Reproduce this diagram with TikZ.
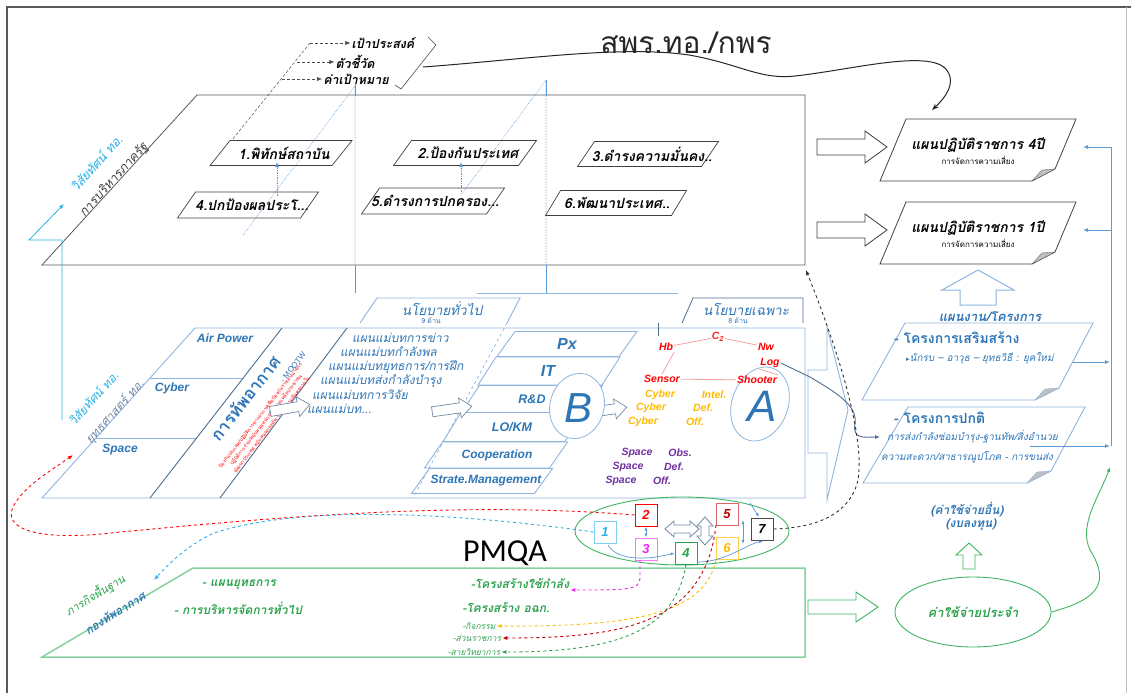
\documentclass[tikz,border=0pt]{standalone}
\usepackage{fontspec}
\setmainfont{Liberation Sans}
\newfontfamily\thai[Script=Thai]{Loma}
\newfontfamily\pmqaf{Carlito}
\newfontfamily\djv{DejaVu Sans}
\usetikzlibrary{arrows.meta,shapes.geometric}
\definecolor{frame}{HTML}{595959}
\definecolor{bluet}{HTML}{2E75B6}
\definecolor{lblue}{HTML}{8FB4DE}
\definecolor{mblue}{HTML}{5B9BD5}
\definecolor{slate}{HTML}{4F6D8F}
\definecolor{cyanc}{HTML}{29B0E8}
\definecolor{greenl}{HTML}{86D19F}
\definecolor{greenc}{HTML}{3DB562}
\definecolor{greent}{HTML}{2BA24C}
\definecolor{orangec}{HTML}{FFBA00}
\definecolor{purplec}{HTML}{7030A0}
\definecolor{darkred}{HTML}{C00000}
\definecolor{magentac}{HTML}{F020F0}
\definecolor{pinkl}{HTML}{F4A0A0}
% parallelogram: centre x, centre y, total width, height, slant
\newcommand{\para}[6][]{\draw[#1] (#2-#4/2,#3+#5/2) -- (#2-#4/2+#6,#3-#5/2) -- (#2+#4/2,#3-#5/2) -- (#2+#4/2-#6,#3+#5/2) -- cycle;}
% right block arrow: x1, x2, yc, shaft half, head half, head length
\newcommand{\rarr}[7][]{\draw[#1] (#2,#4-#5) -- (#3-#7,#4-#5) -- (#3-#7,#4-#6) -- (#3,#4) -- (#3-#7,#4+#6) -- (#3-#7,#4+#5) -- (#2,#4+#5) -- cycle;}
% up block arrow: xc, ytip, ybottom, shaft half, head half, head length
\newcommand{\uarr}[7][]{\draw[#1] (#2-#5,#4) -- (#2-#5,#3+#7) -- (#2-#6,#3+#7) -- (#2,#3) -- (#2+#6,#3+#7) -- (#2+#5,#3+#7) -- (#2+#5,#4) -- cycle;}
% horizontal double block arrow: x1, x2, yc, shaft half, head half, head length
\newcommand{\dharr}[7][]{\draw[#1] (#2,#4) -- (#2+#7,#4-#6) -- (#2+#7,#4-#5) -- (#3-#7,#4-#5) -- (#3-#7,#4-#6) -- (#3,#4) -- (#3-#7,#4+#6) -- (#3-#7,#4+#5) -- (#2+#7,#4+#5) -- (#2+#7,#4+#6) -- cycle;}
% vertical double block arrow: xc, y1, y2, shaft half, head half, head length
\newcommand{\dvarr}[7][]{\draw[#1] (#2,#3) -- (#2+#6,#3+#7) -- (#2+#5,#3+#7) -- (#2+#5,#4-#7) -- (#2+#6,#4-#7) -- (#2,#4) -- (#2-#6,#4-#7) -- (#2-#5,#4-#7) -- (#2-#5,#3+#7) -- (#2-#6,#3+#7) -- cycle;}

\begin{document}
\begin{tikzpicture}[x=1pt,y=-1pt,
  every node/.style={inner sep=1pt},
  tip/.style={-{Latex[length=5pt,width=4pt]}},
  topt/.style={font=\thai\bfseries\itshape\fontsize{12.5}{14}\selectfont},
  boxline/.style={draw=black!75,line width=0.7pt},
  boxtxt/.style={font=\thai\bfseries\itshape\fontsize{14}{16}\selectfont},
  lbl/.style={draw=lblue,line width=0.9pt},
  lat/.style={font=\bfseries\itshape\fontsize{12}{14}\selectfont,text=bluet},
  thi/.style={font=\thai\itshape\fontsize{12}{14}\selectfont,text=bluet},
  net/.style={font=\bfseries\itshape\fontsize{10.5}{12}\selectfont,text=red},
  cyb/.style={font=\bfseries\itshape\fontsize{10.5}{12}\selectfont,text=orangec},
  spc/.style={font=\bfseries\itshape\fontsize{10.5}{12}\selectfont,text=purplec},
  numbox/.style={draw,line width=1pt,minimum size=22pt,inner sep=0pt,fill=white,font=\bfseries\itshape\fontsize{13}{15}\selectfont},
  doct/.style={font=\thai\bfseries\itshape\fontsize{14}{16}\selectfont},
  docs/.style={font=\thai\fontsize{8}{9}\selectfont},
  grt/.style={font=\thai\bfseries\itshape\fontsize{12}{14}\selectfont,text=greent},
  smallg/.style={font=\thai\itshape\fontsize{8.5}{10}\selectfont,text=greent},
  bluesm/.style={font=\thai\itshape\fontsize{10}{12}\selectfont,text=bluet}]
\path[use as bounding box] (0,0) rectangle (1131,693);
% frame
\draw[frame,line width=2pt] (7,693) -- (7,7) -- (1131,7);
\draw[black!25,line width=0.8pt] (1126,7) -- (1126,693);

% ---------- top: goals ----------
\node[topt] (goal) at (383,43) {เป้าประสงค์};
\node[topt] (kpi) at (355,62) {ตัวชี้วัด};
\node[topt] (tgt) at (356,79) {ค่าเป้าหมาย};
\coordinate (d0) at (310,43);
\coordinate (d1) at (297,62);
\coordinate (d2) at (282,79);
\coordinate (d3) at (232,140);
\draw[black!70,densely dashed,line width=0.5pt] (d0) -- (d3);
\draw[black!70,densely dashed,line width=0.5pt,tip] (d0) -- (goal.west);
\draw[black!70,densely dashed,line width=0.5pt,tip] (d1) -- (kpi.west);
\draw[black!70,densely dashed,line width=0.5pt,tip] (d2) -- (tgt.west);
\draw[black!70,line width=0.6pt] (428,37) -- (436,45) -- (401,89) -- (395,85);
\coordinate (br) at (423,67);
\node[font=\thai\fontsize{30}{32}\selectfont,text=black!85] (spr) at (686,43) {สพร.ทอ./กพร};

% ---------- top plane ----------
\draw[frame,line width=0.8pt] (197,95) -- (805,95) -- (805,265) -- (42,265) -- cycle;
\draw[mblue,densely dotted,line width=0.6pt] (355,86) -- (355,265) (546,80) -- (546,265) (355,86) -- (243,235) (546,80) -- (461,195);
\draw[mblue,line width=0.6pt] (355,84) -- (355,96) (355,265) -- (355,293) (546,80) -- (546,96) (546,265) -- (546,293);

\para[boxline]{281}{153}{142}{25}{20}
\para[boxline]{465}{153}{143}{25}{18}
\para[boxline]{648}{154}{141}{25}{17}
\para[boxline]{248}{205}{141}{26}{18}
\para[boxline]{433}{201}{143}{26}{18}
\para[boxline]{616}{203}{141}{25}{15}
\node[boxtxt] (g1) at (284,153) {1.พิทักษ์สถาบัน};
\node[boxtxt] (g2) at (468,153) {2.ป้องกันประเทศ};
\node[boxtxt] (g3) at (652,154) {3.ดำรงความมั่นคง..};
\node[boxtxt] (g4) at (252,205) {4.ปกป้องผลประโ...};
\node[boxtxt] (g5) at (435,201) {5.ดำรงการปกครอง...};
\node[boxtxt] (g6) at (617,203) {6.พัฒนาประเทศ..};
\draw[mblue,densely dotted,line width=0.7pt,tip] (277,196) -- (277,162);
\draw[mblue,densely dotted,line width=0.7pt,tip] (461,192) -- (461,162);

\node[rotate=48,text=cyanc,font=\thai\itshape\fontsize{12.5}{14}\selectfont] (vis1) at (96,163) {วิสัยทัศน์ ทอ.};
\node[rotate=48,text=black!75,font=\thai\itshape\fontsize{12.5}{14}\selectfont] (adm) at (114,180) {การบริหารภาครัฐ};
\draw[cyanc,line width=0.8pt,tip] (62,420) -- (62,240) -- (29,240) -- (64,204);

% curve from bracket to 4-year plan
\draw[black!85,line width=1pt,-{Stealth[length=7pt,width=5pt]}] (br) .. controls (520,60) and (620,45) .. (689,55) .. controls (740,64) and (760,80) .. (795,76) .. controls (850,70) and (925,50) .. (945,68) .. controls (958,82) and (945,98) .. (932,110);

% ---------- right: plans ----------
\rarr[draw=black!75,line width=0.8pt,fill=white]{817}{887}{147}{8}{16}{22}
\rarr[draw=black!75,line width=0.8pt,fill=white]{817}{887}{230}{8}{16}{22}
\draw[black!75,line width=0.8pt] (880,181) -- (906,119) -- (1076,119) -- (1055,169) -- (1032,181) -- cycle;
\draw[black!60,fill=black!25] (1055,169) -- (1032,181) -- (1042,170) -- cycle;
\draw[black!75,line width=0.8pt] (880,264) -- (906,202) -- (1076,202) -- (1055,252) -- (1032,264) -- cycle;
\draw[black!60,fill=black!25] (1055,252) -- (1032,264) -- (1042,253) -- cycle;
\node[doct] (p4) at (978,145) {แผนปฏิบัติราชการ 4ปี};
\node[docs] (p4s) at (978,160) {การจัดการความเสี่ยง};
\node[doct] (p1) at (978,228) {แผนปฏิบัติราชการ 1ปี};
\node[docs] (p1s) at (978,243) {การจัดการความเสี่ยง};

\uarr[draw=lblue,line width=1pt,fill=white]{978}{270}{305}{18}{36}{20}
\node[font=\thai\bfseries\itshape\fontsize{13}{15}\selectfont,text=bluet] (prj) at (990,317) {แผนงาน/โครงการ};
\draw[lblue,line width=0.9pt] (862,400) -- (905,323) -- (1093,323) -- (1059,388) -- (1035,400) -- cycle;
\draw[lblue,fill=black!25] (1059,388) -- (1035,400) -- (1045,389) -- cycle;
\draw[lblue,line width=0.9pt] (863,483) -- (908,407) -- (1085,407) -- (1051,471) -- (1027,483) -- cycle;
\draw[lblue,fill=black!25] (1051,471) -- (1027,483) -- (1037,472) -- cycle;
\node[font=\thai\bfseries\fontsize{14}{16}\selectfont,text=bluet,anchor=west] (pj1) at (893,338) {- โครงการเสริมสร้าง};
\node[bluesm,anchor=west] (pj1a) at (905,358) {{\djv\fontsize{7}{8}\selectfont ▸}นักรบ – อาวุธ – ยุทธวิธี : ยุคใหม่};
\node[font=\thai\bfseries\fontsize{14}{16}\selectfont,text=bluet,anchor=west] (pj2) at (893,418) {- โครงการปกติ};
\node[bluesm,anchor=west] (pj2a) at (886,437) {การส่งกำลังซ่อมบำรุง-ฐานทัพ/สิ่งอำนวย};
\node[bluesm,anchor=west] (pj2b) at (880,457) {ความสะดวก/สาธารณูปโภค - การขนส่ง};

\draw[mblue,line width=0.9pt] (1111,147) -- (1111,446);
\draw[mblue,line width=0.8pt,tip] (1111,147) -- (1083,147);
\draw[mblue,line width=0.8pt,tip] (1111,230) -- (1083,230);
\draw[mblue,line width=0.8pt,tip] (1073,362) -- (1110,362);
\draw[mblue,line width=0.8pt,tip] (1030,446) -- (1110,446);

% ---------- middle band ----------
\draw[lbl] (42,498) -- (195,328) -- (805,328) -- (805,498) -- cycle;
\draw[lbl] (150,378) -- (243,378);
\draw[lbl] (96,438) -- (197,438);
\draw[slate,line width=0.9pt] (150,498) -- (282,328);
\draw[slate,line width=0.9pt] (220,498) -- (347,328);
\draw[lblue,dashed,line width=0.7pt] (507,323) -- (413,498);
\node[lat] (air) at (225,338) {Air Power};
\node[lat] (cyb) at (172,388) {Cyber};
\node[lat] (spa) at (120,450) {Space};
\node[rotate=48,text=cyanc,font=\thai\itshape\fontsize{12}{14}\selectfont] (vis2) at (93,398) {วิสัยทัศน์ ทอ.};
\node[rotate=48,text=slate!80,font=\thai\itshape\fontsize{12}{14}\selectfont] (strat) at (115,412) {ยุทธศาสตร์ ทอ.};
\node[rotate=52,text=bluet,font=\thai\bfseries\fontsize{17}{19}\selectfont] (af) at (245,398) {การทัพอากาศ};
\node[rotate=52,text=bluet,font=\fontsize{8}{9}\selectfont] (mootw) at (293,367) {- MOOTW};
\node[rotate=52,text=red,font=\thai\fontsize{5}{5.6}\selectfont,align=center] (redt) at (266,420) {ป้องกันประเทศ/ปฏิบัติการทางอากาศเพื่อป้องกันราชอาณาจักร\\ปฏิบัติการร่วม/สนับสนุนหน่วยอื่น ช่วยเหลือประชาชน\\พัฒนาประเทศ สนับสนุนกองทัพ รักษาความมั่นคงภายใน};
\begin{scope}[shift={(290,408)},rotate=10]
\rarr[draw=slate!80,line width=0.7pt,fill=white]{-20}{20}{0}{5}{10}{12}
\end{scope}
\node[thi,anchor=west] (m1) at (351,338) {แผนแม่บทการข่าว};
\node[thi,anchor=west] (m2) at (339,352) {แผนแม่บทกำลังพล};
\node[thi,anchor=west] (m3) at (327,367) {แผนแม่บทยุทธการ/การฝึก};
\node[thi,anchor=west] (m4) at (319,381) {แผนแม่บทส่งกำลังบำรุง};
\node[thi,anchor=west] (m5) at (311,395) {แผนแม่บทการวิจัย};
\node[thi,anchor=west] (m6) at (306,409) {แผนแม่บท...};

\draw[lbl] (360,323) -- (377,298) -- (520,298) -- (507,323);
\draw[lblue,line width=0.7pt] (477,293) -- (678,293);
\node[font=\thai\itshape\fontsize{13.5}{15}\selectfont,text=bluet] (gp) at (442,309) {นโยบายทั่วไป};
\node[font=\thai\fontsize{7}{8}\selectfont,text=bluet] (gp9) at (431,321) {9 ด้าน};
\draw[slate,line width=0.8pt] (682,323) -- (693,298) -- (803,298) -- (803,323);
\node[font=\thai\itshape\fontsize{13.5}{15}\selectfont,text=bluet] (sp) at (746,309) {นโยบายเฉพาะ};
\node[font=\thai\fontsize{7}{8}\selectfont,text=bluet] (sp8) at (738,321) {8 ด้าน};
\draw[slate,line width=0.7pt] (658,323) -- (658,336);

\para[lbl]{567}{344}{140}{25}{18}
\para[lbl]{549}{371}{142}{28}{18}
\para[lbl]{532}{399}{141}{27}{18}
\para[lbl]{513}{427}{140}{29}{18}
\para[lbl]{496}{455}{143}{26}{18}
\para[lbl]{482}{481}{141}{25}{18}
\node[lat,font=\bfseries\itshape\fontsize{16}{18}\selectfont] (px) at (567,344) {Px};
\node[lat,font=\bfseries\itshape\fontsize{16}{18}\selectfont] (it) at (548,371) {IT};
\node[lat,font=\bfseries\itshape\fontsize{12.5}{14}\selectfont] (rd) at (532,399) {R\&D};
\node[lat,font=\bfseries\itshape\fontsize{12.5}{14}\selectfont] (lo) at (512,427) {LO/KM};
\node[lat,font=\bfseries\itshape\fontsize{12}{14}\selectfont] (coop) at (497,455) {Cooperation};
\node[lat,font=\bfseries\itshape\fontsize{12}{14}\selectfont] (sm) at (486,481) {Strate.Management};
\begin{scope}[shift={(452,409)},rotate=8]
\rarr[draw=slate!80,line width=0.7pt,fill=white]{-20}{20}{0}{5}{10}{12}
\end{scope}
\begin{scope}[shift={(607,410)},rotate=8]
\rarr[draw=slate!80,line width=0.7pt,fill=white]{-20}{20}{0}{5}{10}{12}
\end{scope}
\node[ellipse,draw=lblue,line width=0.8pt,minimum width=54pt,minimum height=66pt,rotate=-15,fill=white] (bell) at (577,406) {};
\node[text=bluet,font=\itshape\fontsize{42}{42}\selectfont] (bb) at (578,408) {B};
\node[ellipse,draw=lblue,line width=0.8pt,minimum width=56pt,minimum height=76pt,rotate=-20] (aell) at (760,404) {};
\node[text=bluet,font=\itshape\fontsize{44}{44}\selectfont] (aa) at (762,406) {A};

% red network
\node[net,text=red!85] (c2) at (718,337) {C\textsubscript{2}};
\node[net] (hb) at (666,347) {Hb};
\node[net] (nw) at (766,347) {Nw};
\node[net] (log) at (770,363) {Log};
\node[net] (sen) at (662,379) {Sensor};
\node[net] (sho) at (757,380) {Shooter};
\draw[pinkl,line width=0.8pt] (c2) -- (hb) (c2) -- (nw) (hb.south east) -- (sen.north) (sen) -- (sho) (sho.north east) -- (log.south west);
\node[cyb] (cy1) at (660,395) {Cyber};
\node[cyb] (in1) at (714,395) {Intel.};
\node[cyb] (cy2) at (651,408) {Cyber};
\node[cyb] (de1) at (703,408) {Def.};
\node[cyb] (cy3) at (643,422) {Cyber};
\node[cyb] (of1) at (695,422) {Off.};
\node[spc] (sp1) at (637,453) {Space};
\node[spc] (ob2) at (680,453) {Obs.};
\node[spc] (sp2) at (628,467) {Space};
\node[spc] (de2) at (674,467) {Def.};
\node[spc] (sp3) at (621,481) {Space};
\node[spc] (of2) at (662,481) {Off.};

% big right arrow out of band
\draw[lblue,line width=0.9pt,fill=white] (808,370) -- (827,370) -- (827,327) -- (848,410) -- (827,500) -- (827,453) -- (808,453) -- cycle;
\draw[slate,line width=0.9pt,tip] (log.east) -- (810,377) .. controls (835,392) and (858,405) .. (855,424) .. controls (852,440) and (866,437) .. (880,437);

% ---------- PMQA ----------
\draw[greenc,line width=0.9pt] (682,531) ellipse [x radius=107pt, y radius=34pt];
\node[font=\pmqaf\fontsize{32}{34}\selectfont] (pmqa) at (505,553) {PMQA};
\dharr[draw=slate!80,line width=0.8pt,fill=white]{665}{699}{529}{4}{8}{9}
\dvarr[draw=slate!80,line width=0.8pt,fill=white]{705}{517}{545}{4}{8}{9}
\node[numbox,draw=cyanc!60,text=cyanc] (n1) at (605,532) {1};
\node[numbox,draw=red,text=red] (n2) at (646,515) {2};
\node[numbox,draw=magentac!60,text=magentac] (n3) at (646,549) {3};
\node[numbox,draw=greent,text=greent] (n4) at (686,553) {4};
\node[numbox,draw=darkred!60,text=darkred] (n5) at (727,514) {5};
\node[numbox,draw=orangec!70,text=orangec] (n6) at (727,548) {6};
\node[numbox,draw=black!70,text=black] (n7) at (762,529) {7};
\draw[mblue,line width=0.8pt,{Latex[length=4pt]}-{Latex[length=4pt]}] (n2) -- (n3);
\draw[mblue,line width=0.8pt,{Latex[length=4pt]}-{Latex[length=4pt]}] (743,520) -- (743,544);
\draw[mblue,line width=0.7pt,-{Latex[length=4pt]}] (608,545) .. controls (615,558) and (640,562) .. (n4.west);
\draw[mblue,line width=0.7pt,-{Latex[length=4pt]}] (750,503) -- (759,517);
\draw[mblue,line width=0.7pt,-{Latex[length=4pt]}] (698,562) .. controls (725,562) and (745,545) .. (763,541);

% dashed connectors
\draw[red,dashed,line width=0.9pt,tip] (n2.west) .. controls (450,500) and (250,520) .. (120,532) .. controls (40,542) and (0,530) .. (14,505) .. controls (25,485) and (55,468) .. (73,455);
\draw[cyanc,dashed,line width=0.9pt,tip] (n1.west) .. controls (450,512) and (300,505) .. (214,533) .. controls (185,546) and (165,568) .. (154,580);
\draw[black!80,dashed,line width=0.9pt,tip] (n7.east) .. controls (815,528) and (850,515) .. (858,480) .. controls (866,430) and (830,330) .. (806,270);

% ---------- bottom band ----------
\draw[greenl,line width=1.5pt] (42,657) -- (193,568) -- (805,568) -- (805,657) -- cycle;
\node[rotate=31,font=\thai\itshape\fontsize{11}{13}\selectfont,text=greent] (bm1) at (95,595) {ภารกิจพื้นฐาน};
\node[rotate=32,font=\thai\bfseries\itshape\fontsize{11.5}{13}\selectfont,text=bluet] (bm2) at (115,613) {กองทัพอากาศ};
\node[grt] (s1) at (239,585) {- แผนยุทธการ};
\node[grt] (s2) at (238,608) {- การบริหารจัดการทั่วไป};
\node[grt] (s3) at (520,584) {-โครงสร้างใช้กำลัง};
\node[grt] (s4) at (506,608) {-โครงสร้าง อฉก.};
\node[smallg] (s5) at (479,626) {-กิจกรรม};
\node[smallg] (s6) at (477,638) {-ส่วนราชการ};
\node[smallg] (s7) at (474,652) {-สายวิทยาการ};
\draw[magentac,dashed,line width=0.9pt,tip] (640,560) -- (640,578) .. controls (640,590) and (628,590) .. (s3.east |- 0,590);
\draw[orangec,dashed,line width=0.9pt,tip] (716,560) .. controls (705,612) and (640,627) .. (s5.east);
\draw[darkred,dashed,line width=0.9pt,tip] (716,525) .. controls (705,625) and (620,638) .. (s6.east);
\draw[greent,dashed,line width=0.9pt,tip] (n4.south) .. controls (675,630) and (620,652) .. (s7.east);

\rarr[draw=greenc,line width=0.9pt,fill=white]{808}{878}{607}{7}{15}{22}
\node[ellipse,draw=greenc,line width=0.9pt,minimum width=156pt,minimum height=70pt,font=\thai\bfseries\itshape\fontsize{13}{15}\selectfont,text=greent] (exp) at (973,612) {ค่าใช้จ่ายประจำ};
\uarr[draw=greenc,line width=0.9pt,fill=white]{969}{543}{569}{6}{13}{12}
\node[font=\thai\bfseries\itshape\fontsize{12}{14}\selectfont,text=bluet] (oth) at (967,510) {(ค่าใช้จ่ายอื่น)};
\node[font=\thai\bfseries\itshape\fontsize{12}{14}\selectfont,text=bluet] (inv) at (971,525) {(งบลงทุน)};
\draw[greenc,line width=0.9pt,tip] (exp.east) .. controls (1095,600) and (1112,585) .. (1090,550) .. controls (1078,525) and (1100,495) .. (1110,467);
\end{tikzpicture}
\end{document}
